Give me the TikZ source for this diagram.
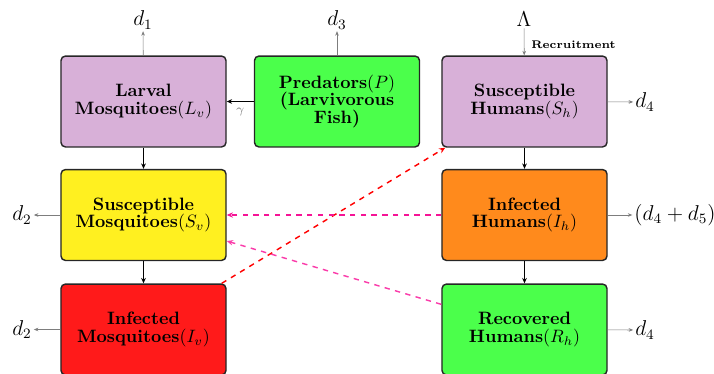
\documentclass[tikz,border=0pt]{standalone}
\usetikzlibrary{arrows.meta,calc}
\definecolor{lavender}{RGB}{216,176,216}
\definecolor{limeg}{RGB}{75,255,75}
\definecolor{yell}{RGB}{255,240,32}
\definecolor{redb}{RGB}{255,26,26}
\definecolor{orangeb}{RGB}{255,138,28}
\definecolor{pinkm}{RGB}{245,20,150}
\definecolor{pinkl}{RGB}{250,60,170}
\definecolor{rateg}{RGB}{125,125,125}
\begin{document}
\begin{tikzpicture}[x=0.5587pt,y=-0.5587pt,
  box/.style={draw=black!85,line width=0.8pt,rounded corners=2.5pt,
    minimum width=92.2pt,minimum height=50.8pt,align=center,
    font=\fontsize{10}{10}\selectfont\bfseries,inner sep=0pt},
  flow/.style={-{Stealth[length=3pt,width=2.6pt]},line width=1.1pt,black},
  rate/.style={-{Stealth[length=2.5pt,width=2pt]},line width=0.35pt,rateg},
  ratelbl/.style={font=\large,inner sep=1pt},
  infect/.style={-{Stealth[length=3.5pt,width=3pt]},dashed}]
\useasboundingbox (0,0) rectangle (714,373);
% compartments
\node[box,fill=lavender] (Lv) at (143.5,101.5) {Larval\\Mosquitoes$(L_v)$};
\node[box,fill=limeg] (P) at (337,101.5) {Predators$(P)$\\(Larvivorous\\Fish)};
\node[box,fill=lavender] (Sh) at (524.5,101.5) {Susceptible\\Humans$(S_h)$};
\node[box,fill=yell] (Sv) at (143.5,215) {Susceptible\\Mosquitoes$(S_v)$};
\node[box,fill=orangeb] (Ih) at (524.5,215) {Infected\\Humans$(I_h)$};
\node[box,fill=redb] (Iv) at (143.5,329.5) {Infected\\Mosquitoes$(I_v)$};
\node[box,fill=limeg] (Rh) at (524.5,329.5) {Recovered\\Humans$(R_h)$};
% rate labels
\node[ratelbl] (d1) at (143,20) {$d_1$};
\node[ratelbl] (d3) at (337,20) {$d_3$};
\node[ratelbl] (Lam) at (524,19) {$\Lambda$};
\node[ratelbl] (d4a) at (645,102) {$d_4$};
\node[ratelbl] (d45) at (675,215) {$(d_4+d_5)$};
\node[ratelbl] (d4b) at (645,330) {$d_4$};
\node[ratelbl] (d2a) at (22,215) {$d_2$};
\node[ratelbl] (d2b) at (22,329.5) {$d_2$};
% transitions
\draw[flow] (Lv) -- (Sv);
\draw[flow] (Sv) -- (Iv);
\draw[flow] (Sh) -- (Ih);
\draw[flow] (Ih) -- (Rh);
\draw[flow] (P) -- node[below=0pt,font=\scriptsize,text=rateg,pos=0.5] {$\gamma$} (Lv);
% losses and recruitment
\draw[rate] (Lv) -- (d1);
\draw[rate] (P) -- (d3);
\draw[rate] (Lam) -- node[right=0.5pt,font=\fontsize{6.2}{7}\selectfont\bfseries,text=black,pos=0.6] {Recruitment} (Sh);
\draw[rate] (Sh) -- (d4a);
\draw[rate] (Ih) -- (d45);
\draw[rate] (Rh) -- (d4b);
\draw[rate] (Sv) -- (d2a);
\draw[rate] (Iv) -- (d2b);
% infection paths
\draw[infect,red,line width=0.8pt] ($(Iv.north east)+(-5,0)$) -- ($(Sh.south west)+(4,0)$);
\draw[infect,pinkm,line width=1.1pt] (Ih.west) -- (Sv.east);
\draw[infect,pinkl,line width=0.8pt] ($(Rh.north west)+(0,21)$) -- ($(Sv.east)+(0,26)$);
\end{tikzpicture}
\end{document}
